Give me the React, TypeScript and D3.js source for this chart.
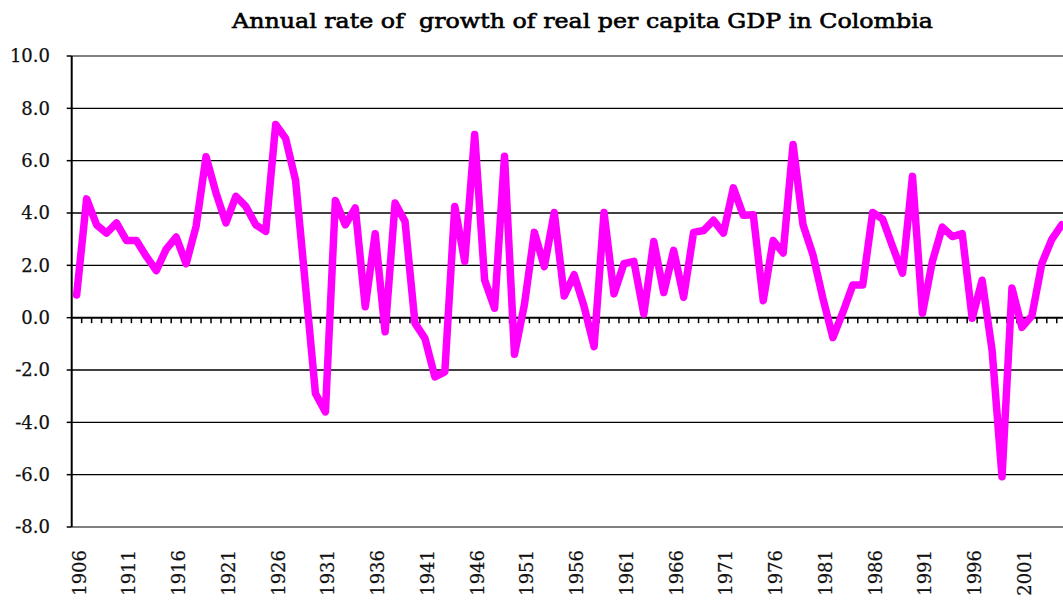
import { useEffect, useRef } from 'react';
import * as d3 from 'd3';

const years: number[] = d3.range(1906, 2006);

const growth: number[] = [
  0.87, 4.54, 3.55, 3.23, 3.62, 2.95, 2.95, 2.34, 1.8, 2.62,
  3.08, 2.06, 3.49, 6.15, 4.77, 3.62, 4.64, 4.25, 3.55, 3.3,
  7.38, 6.85, 5.25, 1.2, -2.9, -3.6, 4.48, 3.55, 4.19, 0.42,
  3.21, -0.54, 4.38, 3.68, -0.21, -0.79, -2.26, -2.07, 4.25, 2.15,
  7.0, 1.44, 0.36, 6.17, -1.4, 0.5, 3.26, 1.95, 4.02, 0.83,
  1.64, 0.42, -1.11, 4.02, 0.91, 2.06, 2.15, 0.14, 2.91, 0.96,
  2.57, 0.78, 3.26, 3.33, 3.72, 3.23, 4.96, 3.91, 3.93, 0.65,
  2.95, 2.47, 6.62, 3.55, 2.4, 0.74, -0.76, 0.2, 1.25, 1.25,
  4.02, 3.77, 2.72, 1.7, 5.4, 0.17, 2.15, 3.46, 3.1, 3.21,
  -0.02, 1.43, -1.24, -6.08, 1.13, -0.37, 0.07, 2.07, 2.99, 3.55,
];

const yTicks: number[] = [-8, -6, -4, -2, 0, 2, 4, 6, 8, 10];
const labelYears: number[] = d3.range(1906, 2006, 5);

const title = 'Annual rate of  growth of real per capita GDP in Colombia';

export default function App() {
  const ref = useRef<SVGSVGElement | null>(null);

  useEffect(() => {
    if (!ref.current) return;
    const svg = d3.select(ref.current);
    svg.selectAll('*').remove();

    const width = 1063;
    const height = 601;
    const left = 71.7;
    const top = 56;
    const bottom = 527;
    const plotW = 995; // runs past the right edge, as in the picture

    const font = '"DejaVu Serif", "Liberation Serif", serif';

    const x = d3.scaleBand<number>().domain(years).range([left, left + plotW]);
    const y = d3.scaleLinear().domain([-8, 10]).range([bottom, top]);

    svg.attr('width', width).attr('height', height);

    svg.append('rect').attr('width', width).attr('height', height).attr('fill', '#fff');

    // gridlines
    svg.append('g')
      .selectAll('line')
      .data(yTicks.filter(d => d !== -8 && d !== 10 && d !== 0))
      .enter()
      .append('line')
      .attr('x1', left)
      .attr('x2', left + plotW)
      .attr('y1', d => y(d))
      .attr('y2', d => y(d))
      .attr('stroke', '#000')
      .attr('stroke-width', 1.4);

    // plot border top and bottom (gray)
    [10, -8].forEach(v => {
      svg.append('line')
        .attr('x1', left)
        .attr('x2', left + plotW)
        .attr('y1', y(v))
        .attr('y2', y(v))
        .attr('stroke', '#808080')
        .attr('stroke-width', 2);
    });

    // y axis
    svg.append('line')
      .attr('x1', left)
      .attr('x2', left)
      .attr('y1', top)
      .attr('y2', bottom)
      .attr('stroke', '#000')
      .attr('stroke-width', 2);

    svg.append('g')
      .selectAll('line')
      .data(yTicks)
      .enter()
      .append('line')
      .attr('x1', left - 5)
      .attr('x2', left)
      .attr('y1', d => y(d))
      .attr('y2', d => y(d))
      .attr('stroke', '#000')
      .attr('stroke-width', 1.5);

    svg.append('g')
      .selectAll('text')
      .data(yTicks)
      .enter()
      .append('text')
      .attr('x', 50)
      .attr('y', d => y(d))
      .attr('dy', '0.36em')
      .attr('text-anchor', 'end')
      .attr('font-family', font)
      .attr('font-size', 18)
      .attr('fill', '#111')
      .attr('stroke', '#111')
      .attr('stroke-width', 0.25)
      .text(d => d.toFixed(1));

    // zero axis with category ticks
    svg.append('line')
      .attr('x1', left)
      .attr('x2', left + plotW)
      .attr('y1', y(0))
      .attr('y2', y(0))
      .attr('stroke', '#000')
      .attr('stroke-width', 2);

    svg.append('g')
      .selectAll('line')
      .data(years.slice(1))
      .enter()
      .append('line')
      .attr('x1', d => x(d)!)
      .attr('x2', d => x(d)!)
      .attr('y1', y(0))
      .attr('y2', y(0) + 5.5)
      .attr('stroke', '#000')
      .attr('stroke-width', 1.5);

    // x labels
    svg.append('g')
      .selectAll('text')
      .data(labelYears)
      .enter()
      .append('text')
      .attr('transform', d => `translate(${x(d)! + x.bandwidth() / 2 + 9},550) rotate(-90)`)
      .attr('text-anchor', 'end')
      .attr('font-family', font)
      .attr('font-size', 18)
      .attr('fill', '#111')
      .attr('stroke', '#111')
      .attr('stroke-width', 0.25)
      .text(d => `${d}`);

    // series
    const line = d3.line<number>()
      .x((_, i) => x(years[i])! + x.bandwidth() / 2)
      .y(d => y(d));

    svg.append('path')
      .datum(growth)
      .attr('d', line)
      .attr('fill', 'none')
      .attr('stroke', '#FF00FF')
      .attr('stroke-width', 7.5)
      .attr('stroke-linejoin', 'round')
      .attr('stroke-linecap', 'round');

    // title
    svg.append('text')
      .attr('x', 232)
      .attr('y', 28)
      .attr('font-family', font)
      .attr('font-size', 21)
      .attr('fill', '#000')
      .attr('stroke', '#000')
      .attr('stroke-width', 0.6)
      .attr('textLength', 701)
      .attr('lengthAdjust', 'spacingAndGlyphs')
      .style('white-space', 'pre')
      .text(title);
  }, []);

  return (
    <div>
      <svg ref={ref} style={{ position: 'absolute', left: 0, top: 0, overflow: 'hidden' }}></svg>
    </div>
  );
}
